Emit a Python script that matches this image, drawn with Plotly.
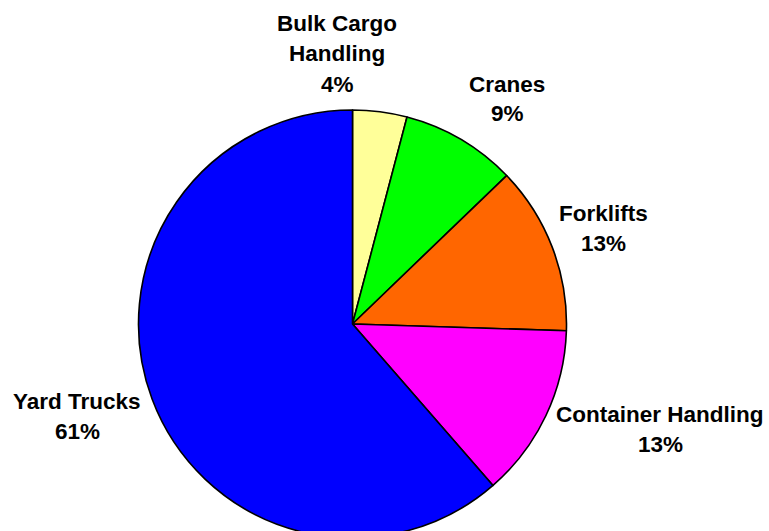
import plotly.graph_objects as go

# Share of port equipment emissions by equipment type (clockwise from 12 o'clock)
categories = ["Bulk Cargo Handling", "Cranes", "Forklifts", "Container Handling", "Yard Trucks"]
shares = [4.1, 8.7, 12.7, 13.1, 61.4]
label_lines = [["Bulk Cargo", "Handling"], ["Cranes"], ["Forklifts"], ["Container Handling"], ["Yard Trucks"]]
colors = ["#FFFF99", "#00FF00", "#FF6600", "#FF00FF", "#0000FF"]

W, H = 769, 560            # canvas taller than the window so the pie's foot runs off the page
cx, cy, r = 352.5, 324, 214  # pie centre / radius in pixels from the top-left

fig = go.Figure(go.Pie(
    labels=categories,
    values=shares,
    sort=False,
    direction="clockwise",
    rotation=0,
    marker=dict(colors=colors, line=dict(color="black", width=1.6)),
    textinfo="none",
    hoverinfo="label+percent",
    showlegend=False,
    domain=dict(x=[(cx - r) / W, (cx + r) / W], y=[(H - cy - r) / H, (H - cy + r) / H]),
))

# label block centres (x, y of first line) in pixels
label_pos = [(337, 24), (507, 84), (603, 213), (660, 414), (77, 401)]
line_gap = 30
total = sum(shares)
annotations = []
for lines, v, (lx, ly) in zip(label_lines, shares, label_pos):
    rows = lines + [f"{round(100 * v / total)}%"]
    for i, row in enumerate(rows):
        annotations.append(dict(
            x=lx / W, y=1 - (ly + i * line_gap) / H, xref="paper", yref="paper",
            text=f"<b>{row}</b>", showarrow=False, xanchor="center", yanchor="middle",
            font=dict(family="Liberation Sans, Arial, sans-serif", size=22.5, color="black"),
        ))

fig.update_layout(
    width=W, height=H,
    margin=dict(l=0, r=0, t=0, b=0),
    paper_bgcolor="white", plot_bgcolor="white",
    annotations=annotations,
)

fig.write_html(
    "out.html",
    config={"displayModeBar": False},
    post_script="document.documentElement.style.overflow='hidden';document.body.style.overflow='hidden';document.body.style.margin='0';",
)
